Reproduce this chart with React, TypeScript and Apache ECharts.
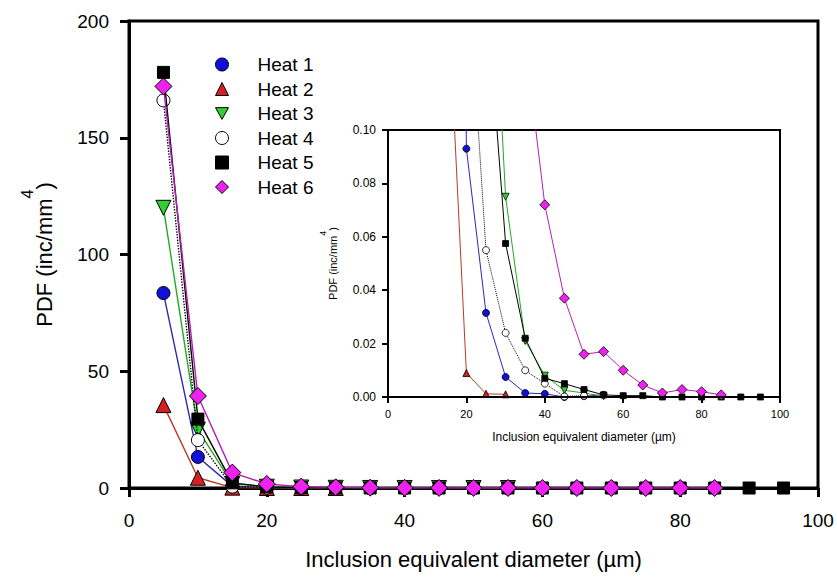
import React, { useEffect, useRef } from "react";
import * as echarts from "echarts";

const diam = [5, 10, 15, 20, 25, 30, 35, 40, 45, 50, 55, 60, 65, 70, 75, 80, 85, 90, 95];
const heatNames = ["Heat 1", "Heat 2", "Heat 3", "Heat 4", "Heat 5", "Heat 6"];
const heat1 = [83.5, 13.3, 0.8, 0.093, 0.0315, 0.0075, 0.0015, 0.0012, 0.0, 0.0003, 0.0008];
const heat2 = [35.5, 4.4, 0.16, 0.009, 0.0012, 0.001];
const heat3 = [120, 25, 1.8, 0.55, 0.214, 0.075, 0.021, 0.008, 0.0025, 0.0015, 0.0003];
const heat4 = [166, 20.5, 0.6, 0.17, 0.055, 0.024, 0.01, 0.005, 0.0002, 0.0005];
const heat5 = [178, 29.5, 2.2, 0.5, 0.154, 0.0575, 0.022, 0.007, 0.005, 0.0028, 0.0008, 0.0005, 0.0005, 0, 0, 0, 0, 0, 0];
const heat6 = [172, 39.4, 6.6, 1.7, 0.6, 0.3, 0.133, 0.072, 0.037, 0.016, 0.017, 0.01, 0.0045, 0.0015, 0.0028, 0.002, 0.0008];
const mainXTicks = [0, 100, 20];
const mainYTicks = [0, 200, 50];
const insetYTicks = [0, 0.1, 0.02];

const FONT = "'Liberation Sans', Arial, sans-serif";
const downTri = "path://M0,0L20,0L10,18Z";

const styles = [
  { symbol: "circle", icon: "circle", fill: "#1010d8", line: "#2a2ab0", type: "solid", big: 13, small: 7, rot: 0 },
  { symbol: "triangle", icon: "triangle", fill: "#d42020", line: "#b83a28", type: "solid", big: 15, small: 7, rot: 0 },
  { symbol: "triangle", icon: downTri, fill: "#30d030", line: "#22aa22", type: "solid", big: 15, small: 7, rot: 180 },
  { symbol: "circle", icon: "circle", fill: "#ffffff", line: "#000000", type: "dotted", big: 13, small: 7, rot: 0 },
  { symbol: "rect", icon: "rect", fill: "#000000", line: "#000000", type: "solid", big: 12, small: 6, rot: 0 },
  { symbol: "diamond", icon: "diamond", fill: "#ee22ee", line: "#b420b4", type: "solid", big: 17, small: 10, rot: 0 },
];
const heats = [heat1, heat2, heat3, heat4, heat5, heat6];

export default function App() {
  const ref = useRef<HTMLDivElement>(null);
  useEffect(() => {
    if (!ref.current) return;
    const chart = echarts.init(ref.current, null, { renderer: "svg" });
    const axisCommon = (w: number, tickLen: number, fs: number, margin: number) => ({
      axisLine: { show: true, onZero: false, lineStyle: { color: "#000", width: w } },
      axisTick: { show: true, inside: false, length: tickLen, lineStyle: { color: "#000", width: w } },
      axisLabel: { color: "#000", fontSize: fs, fontFamily: FONT, margin },
      splitLine: { show: false },
    });
    const mainSeries = heats.map((arr, i) => ({
      name: heatNames[i],
      type: "line",
      xAxisIndex: 0,
      yAxisIndex: 0,
      data: arr.map((v, j) => [diam[j], v]),
      symbol: styles[i].symbol,
      symbolSize: styles[i].big,
      symbolRotate: styles[i].rot,
      lineStyle: { color: styles[i].line, width: 1.4, type: styles[i].type },
      itemStyle: { color: styles[i].fill, borderColor: "#000", borderWidth: 1 },
      z: 3 + i,
    }));
    const insetSeries = heats.map((arr, i) => ({
      name: "inset " + heatNames[i],
      type: "line",
      xAxisIndex: 1,
      yAxisIndex: 1,
      clip: true,
      data: arr.map((v, j) => [diam[j], v]),
      symbol: styles[i].symbol,
      symbolSize: styles[i].small,
      symbolRotate: styles[i].rot,
      lineStyle: { color: styles[i].line, width: 1, type: styles[i].type },
      itemStyle: { color: styles[i].fill, borderColor: "#000", borderWidth: 0.8 },
      z: 20 + i,
    }));
    chart.setOption({
      animation: false,
      backgroundColor: "#fff",
      textStyle: { fontFamily: FONT },
      grid: [
        { left: 129, top: 21, right: 19, bottom: 89, show: true, borderColor: "#000", borderWidth: 3, backgroundColor: "transparent" },
        { left: 388, top: 130, width: 392, height: 267, show: true, borderColor: "#000", borderWidth: 2, backgroundColor: "#fff", z: 10 },
      ],
      legend: {
        orient: "vertical",
        left: 210,
        top: 50,
        itemWidth: 13,
        itemHeight: 13,
        itemGap: 5.5,
        selectedMode: false,
        textStyle: { fontSize: 19, color: "#000", fontFamily: FONT, padding: [0, 0, 0, 24] },
        itemStyle: { borderWidth: 1, borderColor: "#000" },
        data: heatNames.map((n, i) => ({ name: n, icon: styles[i].icon })),
      },
      xAxis: [
        {
          type: "value", gridIndex: 0, min: mainXTicks[0], max: mainXTicks[1], interval: mainXTicks[2],
          ...axisCommon(3, 9, 19, 23),
          name: "Inclusion equivalent diameter (µm)", nameLocation: "middle", nameGap: 60,
          nameTextStyle: { fontSize: 22, color: "#000", fontFamily: FONT },
        },
        {
          type: "value", gridIndex: 1, min: mainXTicks[0], max: mainXTicks[1], interval: mainXTicks[2],
          ...axisCommon(2, 6, 11, 11),
          name: "Inclusion equivalent diameter (µm)", nameLocation: "middle", nameGap: 34,
          nameTextStyle: { fontSize: 12, color: "#000", fontFamily: FONT },
          z: 30,
        },
      ],
      yAxis: [
        {
          type: "value", gridIndex: 0, min: mainYTicks[0], max: mainYTicks[1], interval: mainYTicks[2],
          ...axisCommon(3, 9, 19, 20),
          name: "{a|PDF (inc/mm}{s|4}{a|)}", nameLocation: "middle", nameGap: 74,
          nameTextStyle: {
            color: "#000", fontFamily: FONT,
            rich: {
              a: { fontSize: 22, lineHeight: 36, verticalAlign: "bottom", fontFamily: FONT, color: "#000" },
              s: { fontSize: 16, lineHeight: 16, verticalAlign: "top", fontFamily: FONT, color: "#000" },
            },
          },
        },
        {
          type: "value", gridIndex: 1, min: insetYTicks[0], max: insetYTicks[1], interval: insetYTicks[2],
          ...axisCommon(2, 6, 12, 12),
          axisLabel: { color: "#000", fontSize: 12, fontFamily: FONT, margin: 12, formatter: (v: number) => v.toFixed(2) },
          name: "{a|PDF (inc/mm}{s|4}{a|)}", nameLocation: "middle", nameGap: 50,
          nameTextStyle: {
            color: "#000", fontFamily: FONT,
            rich: {
              a: { fontSize: 11, lineHeight: 20, verticalAlign: "bottom", fontFamily: FONT, color: "#000" },
              s: { fontSize: 9, lineHeight: 9, verticalAlign: "top", fontFamily: FONT, color: "#000" },
            },
          },
          z: 30,
        },
      ],
      series: [...mainSeries, ...insetSeries],
    });
    return () => chart.dispose();
  }, []);
  return <div ref={ref} style={{ width: 837, height: 577, position: "absolute", left: 0, top: 0 }} />;
}
